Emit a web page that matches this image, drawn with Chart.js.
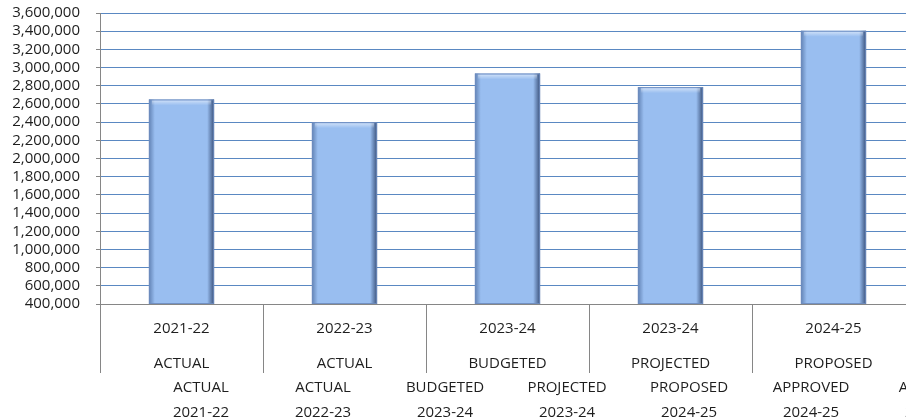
<!DOCTYPE html>
<html>
<head>
<meta charset="utf-8">
<script src="https://cdn.jsdelivr.net/npm/chart.js@4"></script>
<style>
  html, body { margin: 0; padding: 0; background: #fff; overflow: hidden; }
  #wrap { width: 980px; height: 420px; }
</style>
</head>
<body>
<div id="wrap"><canvas id="budgetChart" width="980" height="420"></canvas></div>
<script>
const years = ['2021-22', '2022-23', '2023-24', '2023-24', '2024-25'];
const stages = ['ACTUAL', 'ACTUAL', 'BUDGETED', 'PROJECTED', 'PROPOSED'];
const amounts = [2650000, 2400000, 2935000, 2785000, 3405000];

// second (misaligned) label row under the axis
const lowerStages = ['ACTUAL', 'ACTUAL', 'BUDGETED', 'PROJECTED', 'PROPOSED', 'APPROVED', 'ADOPTED'];
const lowerYears = ['2021-22', '2022-23', '2023-24', '2023-24', '2024-25', '2024-25', '2024-25'];

const yMin = 400000;
const yMax = 3600000;
const yStep = 200000;

const FONT = "'Open Sans', 'Noto Sans', sans-serif";
const TEXT = '#1e1e1e';
const AXIS_GRAY = '#868686';

// darker sides + light top strip on each bar
const bevel = {
  id: 'bevel',
  afterDatasetsDraw(chart) {
    const ctx = chart.ctx;
    const bottom = chart.chartArea.bottom;
    chart.getDatasetMeta(0).data.forEach(bar => {
      const p = bar.getProps(['x', 'y', 'base', 'width'], true);
      const l = p.x - p.width / 2;
      const r = p.x + p.width / 2;
      const h = Math.min(p.base, bottom) - p.y;
      ctx.save();
      let g = ctx.createLinearGradient(l, 0, l + 6, 0);
      g.addColorStop(0, 'rgba(60,90,140,0.6)');
      g.addColorStop(1, 'rgba(60,90,140,0)');
      ctx.fillStyle = g;
      ctx.fillRect(l, p.y, 6, h);
      g = ctx.createLinearGradient(r - 7, 0, r, 0);
      g.addColorStop(0, 'rgba(35,55,95,0)');
      g.addColorStop(1, 'rgba(35,55,95,0.8)');
      ctx.fillStyle = g;
      ctx.fillRect(r - 7, p.y, 7, h);
      g = ctx.createLinearGradient(0, p.y, 0, p.y + 6);
      g.addColorStop(0, 'rgba(255,255,255,0.6)');
      g.addColorStop(1, 'rgba(255,255,255,0)');
      ctx.fillStyle = g;
      ctx.fillRect(l + 3, p.y + 1, p.width - 6, 6);
      ctx.strokeStyle = 'rgba(110,140,190,0.9)';
      ctx.lineWidth = 1;
      ctx.strokeRect(l + 0.5, p.y + 0.5, p.width - 1, h - 1);
      ctx.restore();
    });
  }
};

new Chart(document.getElementById('budgetChart'), {
  type: 'bar',
  data: {
    labels: years.map((y, i) => [y, stages[i]]),
    datasets: [{
      data: amounts,
      backgroundColor: '#99bef0',
      borderWidth: 0,
      categoryPercentage: 1,
      barPercentage: 0.4
    }]
  },
  options: {
    responsive: false,
    animation: false,
    devicePixelRatio: 1,
    layout: { padding: { left: 0, top: 13, right: 65, bottom: 0 } },
    plugins: { legend: { display: false }, tooltip: { enabled: false } },
    scales: {
      y: {
        min: yMin,
        max: yMax,
        border: { color: AXIS_GRAY },
        grid: { color: '#5a88c2', tickColor: AXIS_GRAY, tickLength: 4 },
        ticks: {
          stepSize: yStep,
          autoSkip: false,
          padding: 16,
          color: TEXT,
          font: { family: FONT, size: 15 },
          callback: v => v.toLocaleString('en-US')
        },
        afterFit: s => { s.width = 100; s.paddingTop = 0; s.paddingBottom = 0; }
      },
      x: {
        position: 'bottom',
        weight: 0,
        border: { color: AXIS_GRAY },
        grid: { drawOnChartArea: false, color: AXIS_GRAY, tickLength: 69 },
        ticks: {
          padding: -62,
          maxRotation: 0,
          autoSkip: false,
          color: TEXT,
          font: { family: FONT, size: 15, lineHeight: 35 / 15 }
        },
        afterFit: s => { s.height = 69; s.paddingLeft = 0; s.paddingRight = 0; }
      },
      x2: {
        type: 'linear',
        axis: 'x',
        position: 'bottom',
        weight: 1,
        offset: false,
        min: -0.828,
        max: 5.852,
        border: { display: false },
        grid: { display: false, drawTicks: false, offset: false },
        ticks: {
          padding: 2,
          maxRotation: 0,
          autoSkip: false,
          color: TEXT,
          font: { family: FONT, size: 15, lineHeight: 25 / 15 },
          callback: v => [lowerStages[v], lowerYears[v]]
        },
        afterBuildTicks: s => { s.ticks = lowerStages.map((_, i) => ({ value: i })); },
        afterFit: s => { s.height = 47; s.paddingLeft = 0; s.paddingRight = 0; }
      }
    }
  },
  plugins: [bevel]
});
</script>
</body>
</html>
